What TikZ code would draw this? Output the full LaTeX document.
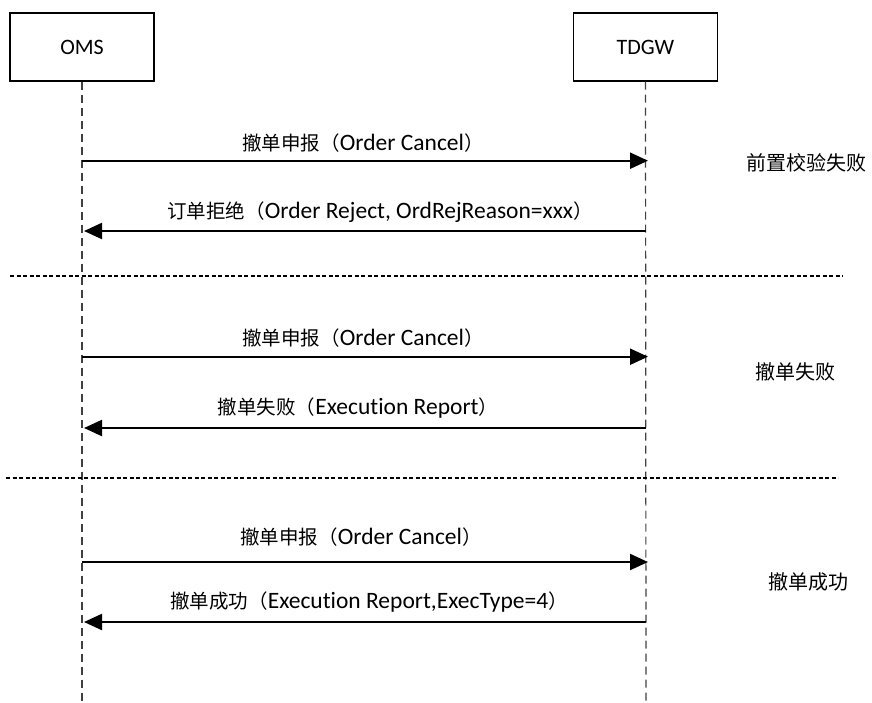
\documentclass[tikz,border=0pt]{standalone}
\usepackage{fontspec}
\setmainfont{Carlito}[Ligatures={NoCommon}]
\newfontfamily\cjk{Noto Sans CJK SC}
\usetikzlibrary{arrows.meta}
\newcommand{\cj}[1]{{\cjk\fontsize{19.5}{22}\selectfont #1}}
\begin{document}
\begin{tikzpicture}[x=1pt,y=-1pt,
  actor/.style={draw=black,line width=1.2pt,minimum width=144pt,minimum height=68pt,inner sep=0pt,font=\fontsize{22}{24}\selectfont},
  life/.style={draw=black!75,line width=1.2pt,dash pattern=on 8pt off 5pt},
  msg/.style={draw=black,line width=2.2pt,-{Triangle[length=18pt,width=16pt]}},
  sep/.style={draw=black,line width=1.5pt,dash pattern=on 4pt off 2.5pt},
  lbl/.style={inner sep=0pt,font=\fontsize{23.5}{26}\selectfont},
  side/.style={inner sep=0pt,font=\cjk\fontsize{20}{24}\selectfont}]
\useasboundingbox (0,0) rectangle (872,702);
% actors
\node[actor] (oms) at (82,47) {OMS};
\node[actor] (tdgw) at (645.5,47) {TDGW};
\coordinate (omsend) at (82,702);
\coordinate (tdgwend) at (646,702);
\draw[life] (oms.south) -- (omsend);
\draw[life] (tdgw.south) -- (tdgwend);
% message anchors
\coordinate (o1) at (82,160.7); \coordinate (t1) at (648,160.7);
\coordinate (o2) at (84,231);   \coordinate (t2) at (646,231);
\coordinate (o3) at (82,356.7); \coordinate (t3) at (648,356.7);
\coordinate (o4) at (84,428);   \coordinate (t4) at (646,428);
\coordinate (o5) at (82,562);   \coordinate (t5) at (648,562);
\coordinate (o6) at (84,622);   \coordinate (t6) at (646,622);
\draw[msg] (o1) -- (t1);
\draw[msg] (t2) -- (o2);
\draw[msg] (o3) -- (t3);
\draw[msg] (t4) -- (o4);
\draw[msg] (o5) -- (t5);
\draw[msg] (t6) -- (o6);
% labels
\node[lbl] (l1) at (363,143) {\cj{撤单申报（}Order Cancel\cj{）}};
\node[lbl] (l2) at (380,212) {\cj{订单拒绝（}Order Reject, OrdRejReason=xxx\cj{）}};
\node[lbl] (l3) at (363,338) {\cj{撤单申报（}Order Cancel\cj{）}};
\node[lbl] (l4) at (358,408) {\cj{撤单失败（}Execution Report\cj{）}};
\node[lbl] (l5) at (361,537) {\cj{撤单申报（}Order Cancel\cj{）}};
\node[lbl] (l6) at (369,602) {\cj{撤单成功（}Execution Report,ExecType=4\cj{）}};
% separators
\coordinate (s1a) at (10,276); \coordinate (s1b) at (843,276);
\coordinate (s2a) at (6,478);  \coordinate (s2b) at (838,478);
\draw[sep] (s1a) -- (s1b);
\draw[sep] (s2a) -- (s2b);
% side labels
\node[side] (r1) at (806,163) {前置校验失败};
\node[side] (r2) at (795,372) {撤单失败};
\node[side] (r3) at (808,582) {撤单成功};
\end{tikzpicture}
\end{document}
